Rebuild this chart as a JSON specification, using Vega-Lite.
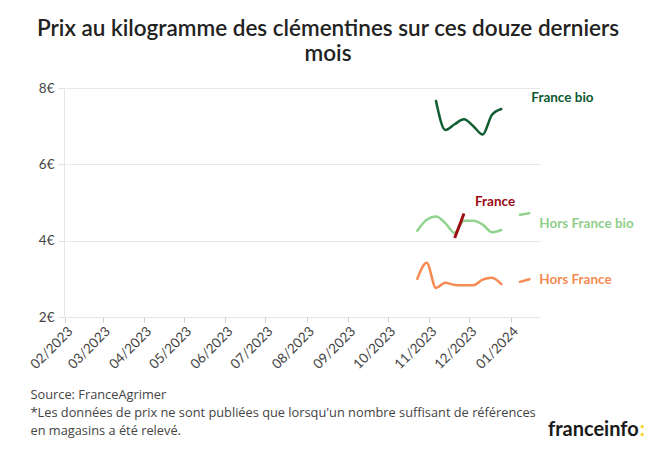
{
  "$schema": "https://vega.github.io/schema/vega-lite/v6.json",
  "width": 476,
  "height": 229,
  "autosize": {"type": "none"},
  "padding": {"left": 64, "top": 88, "right": 120, "bottom": 132},
  "background": "white",
  "title": {
    "text": ["Prix au kilogramme des clémentines sur ces douze derniers", "mois"],
    "anchor": "middle",
    "dx": 26,
    "fontSize": 22.5,
    "font": "Lato",
    "fontWeight": 600,
    "color": "#222222",
    "lineHeight": 25,
    "offset": 16
  },
  "config": {"view": {"stroke": null}, "font": "Lato"},
  "datasets": {
    "prix": [
      {"date": "2023-11-06", "serie": "France bio", "prix": 7.66},
      {"date": "2023-11-13", "serie": "France bio", "prix": 6.9},
      {"date": "2023-11-20", "serie": "France bio", "prix": 7.05},
      {"date": "2023-11-27", "serie": "France bio", "prix": 7.18},
      {"date": "2023-12-04", "serie": "France bio", "prix": 7.0},
      {"date": "2023-12-11", "serie": "France bio", "prix": 6.78},
      {"date": "2023-12-18", "serie": "France bio", "prix": 7.3},
      {"date": "2023-12-25", "serie": "France bio", "prix": 7.45},
      {"date": "2023-10-23", "serie": "Hors France bio", "prix": 4.26},
      {"date": "2023-10-30", "serie": "Hors France bio", "prix": 4.55},
      {"date": "2023-11-06", "serie": "Hors France bio", "prix": 4.63},
      {"date": "2023-11-13", "serie": "Hors France bio", "prix": 4.46},
      {"date": "2023-11-20", "serie": "Hors France bio", "prix": 4.2},
      {"date": "2023-11-27", "serie": "Hors France bio", "prix": 4.52},
      {"date": "2023-12-04", "serie": "Hors France bio", "prix": 4.52},
      {"date": "2023-12-11", "serie": "Hors France bio", "prix": 4.42},
      {"date": "2023-12-18", "serie": "Hors France bio", "prix": 4.22},
      {"date": "2023-12-25", "serie": "Hors France bio", "prix": 4.28},
      {"date": "2024-01-01", "serie": "Hors France bio", "prix": null},
      {"date": "2024-01-08", "serie": "Hors France bio", "prix": 4.68},
      {"date": "2024-01-15", "serie": "Hors France bio", "prix": 4.72},
      {"date": "2023-10-23", "serie": "Hors France", "prix": 3.0},
      {"date": "2023-10-30", "serie": "Hors France", "prix": 3.42},
      {"date": "2023-11-06", "serie": "Hors France", "prix": 2.76},
      {"date": "2023-11-13", "serie": "Hors France", "prix": 2.9},
      {"date": "2023-11-20", "serie": "Hors France", "prix": 2.84},
      {"date": "2023-11-27", "serie": "Hors France", "prix": 2.83},
      {"date": "2023-12-04", "serie": "Hors France", "prix": 2.83},
      {"date": "2023-12-11", "serie": "Hors France", "prix": 2.98},
      {"date": "2023-12-18", "serie": "Hors France", "prix": 3.03},
      {"date": "2023-12-25", "serie": "Hors France", "prix": 2.86},
      {"date": "2024-01-01", "serie": "Hors France", "prix": null},
      {"date": "2024-01-08", "serie": "Hors France", "prix": 2.92},
      {"date": "2024-01-15", "serie": "Hors France", "prix": 2.99},
      {"date": "2023-11-20", "serie": "France", "prix": 4.07},
      {"date": "2023-11-27", "serie": "France", "prix": 4.71}
    ]
  },
  "layer": [
    {
      "data": {"name": "prix"},
      "transform": [{"filter": "datum.serie != 'France'"}],
      "mark": {"type": "line", "interpolate": "monotone", "strokeWidth": 2.5, "strokeCap": "round", "invalid": "break-paths-show-domains"},
      "encoding": {
        "x": {
          "field": "date",
          "type": "temporal",
          "scale": {"domain": [{"year": 2023, "month": 1, "date": 31}, {"year": 2024, "month": 1, "date": 23}]},
          "axis": {
            "values": [
              {"year": 2023, "month": 2, "date": 1},
              {"year": 2023, "month": 3, "date": 1},
              {"year": 2023, "month": 4, "date": 1},
              {"year": 2023, "month": 5, "date": 1},
              {"year": 2023, "month": 6, "date": 1},
              {"year": 2023, "month": 7, "date": 1},
              {"year": 2023, "month": 8, "date": 1},
              {"year": 2023, "month": 9, "date": 1},
              {"year": 2023, "month": 10, "date": 1},
              {"year": 2023, "month": 11, "date": 1},
              {"year": 2023, "month": 12, "date": 1},
              {"year": 2024, "month": 1, "date": 1}
            ],
            "format": "%m/%Y",
            "labelAngle": -45,
            "labelOverlap": false,
            "labelFlush": false,
            "grid": false,
            "tickColor": "#cccccc",
            "tickSize": 5,
            "domainColor": "#e6e6e6",
            "labelColor": "#444444",
            "labelFontSize": 13.5,
            "labelFont": "Lato",
            "labelPadding": 2,
            "title": [
              "Source: FranceAgrimer",
              "*Les données de prix ne sont publiées que lorsqu'un nombre suffisant de références",
              "en magasins a été relevé."
            ],
            "titleAnchor": "start",
            "titleAlign": "left",
            "titleX": -34,
            "titleY": 71,
            "titleBaseline": "top",
            "titleFont": "Open Sans",
            "titleFontSize": 12.8,
            "titleFontWeight": "normal",
            "titleColor": "#444444",
            "titleLineHeight": 18
          }
        },
        "y": {
          "field": "prix",
          "type": "quantitative",
          "scale": {"domain": [2, 8]},
          "axis": {
            "values": [2, 4, 6, 8],
            "labelExpr": "datum.value + '€'",
            "grid": true,
            "gridColor": "#e8e8e8",
            "domainColor": "#e6e6e6",
            "tickColor": "#e0e0e0",
            "tickSize": 6,
            "labelPadding": 4,
            "labelColor": "#444444",
            "labelFontSize": 13.5,
            "labelFont": "Lato",
            "title": null
          }
        },
        "color": {
          "field": "serie",
          "type": "nominal",
          "scale": {"domain": ["France bio", "Hors France bio", "Hors France", "France"], "range": ["#115e33", "#93d38f", "#f58a52", "#9e0f14"]},
          "legend": null
        }
      }
    },
    {
      "data": {"name": "prix"},
      "transform": [{"filter": "datum.serie == 'France'"}],
      "mark": {"type": "line", "strokeWidth": 3, "color": "#9e0f14"},
      "encoding": {
        "x": {"field": "date", "type": "temporal"},
        "y": {"field": "prix", "type": "quantitative"}
      }
    },
    {
      "data": {"name": "prix"},
      "transform": [{"filter": "datum.serie == 'France bio' && utcmonth(datum.date) == 11 && utcdate(datum.date) == 25"}],
      "mark": {"type": "text", "align": "left", "baseline": "middle", "dx": 30, "dy": -11, "fontSize": 13.5, "fontWeight": "bold", "color": "#0d5a31", "font": "Lato"},
      "encoding": {
        "x": {"field": "date", "type": "temporal"},
        "y": {"field": "prix", "type": "quantitative"},
        "text": {"field": "serie"}
      }
    },
    {
      "data": {"name": "prix"},
      "transform": [{"filter": "datum.serie == 'Hors France bio' && utcyear(datum.date) == 2024 && utcdate(datum.date) == 15"}],
      "mark": {"type": "text", "align": "left", "baseline": "middle", "dx": 10, "dy": 11, "fontSize": 13.5, "fontWeight": "bold", "color": "#8fcf8a", "font": "Lato"},
      "encoding": {
        "x": {"field": "date", "type": "temporal"},
        "y": {"field": "prix", "type": "quantitative"},
        "text": {"field": "serie"}
      }
    },
    {
      "data": {"name": "prix"},
      "transform": [{"filter": "datum.serie == 'Hors France' && utcyear(datum.date) == 2024 && utcdate(datum.date) == 15"}],
      "mark": {"type": "text", "align": "left", "baseline": "middle", "dx": 10, "dy": 1, "fontSize": 13.5, "fontWeight": "bold", "color": "#f58a52", "font": "Lato"},
      "encoding": {
        "x": {"field": "date", "type": "temporal"},
        "y": {"field": "prix", "type": "quantitative"},
        "text": {"field": "serie"}
      }
    },
    {
      "data": {"name": "prix"},
      "transform": [{"filter": "datum.serie == 'France' && utcdate(datum.date) == 27"}],
      "mark": {"type": "text", "align": "left", "baseline": "middle", "dx": 11, "dy": -12, "fontSize": 13.5, "fontWeight": "bold", "color": "#9b0b15", "font": "Lato"},
      "encoding": {
        "x": {"field": "date", "type": "temporal"},
        "y": {"field": "prix", "type": "quantitative"},
        "text": {"field": "serie"}
      }
    },
    {
      "data": {"values": [{"logo": "franceinfo"}]},
      "mark": {"type": "text", "align": "right", "baseline": "alphabetic", "fontSize": 20, "fontWeight": "bold", "color": "#1a1a1a", "font": "Lato"},
      "encoding": {
        "x": {"datum": {"year": 2024, "month": 4, "date": 6}, "type": "temporal"},
        "y": {"datum": -1.12, "type": "quantitative"},
        "text": {"field": "logo"}
      }
    },
    {
      "data": {"values": [{"logo": ":"}]},
      "mark": {"type": "text", "align": "left", "baseline": "alphabetic", "fontSize": 20, "fontWeight": "bold", "color": "#f7d117", "font": "Lato", "dx": 1},
      "encoding": {
        "x": {"datum": {"year": 2024, "month": 4, "date": 6}, "type": "temporal"},
        "y": {"datum": -1.12, "type": "quantitative"},
        "text": {"field": "logo"}
      }
    }
  ]
}
